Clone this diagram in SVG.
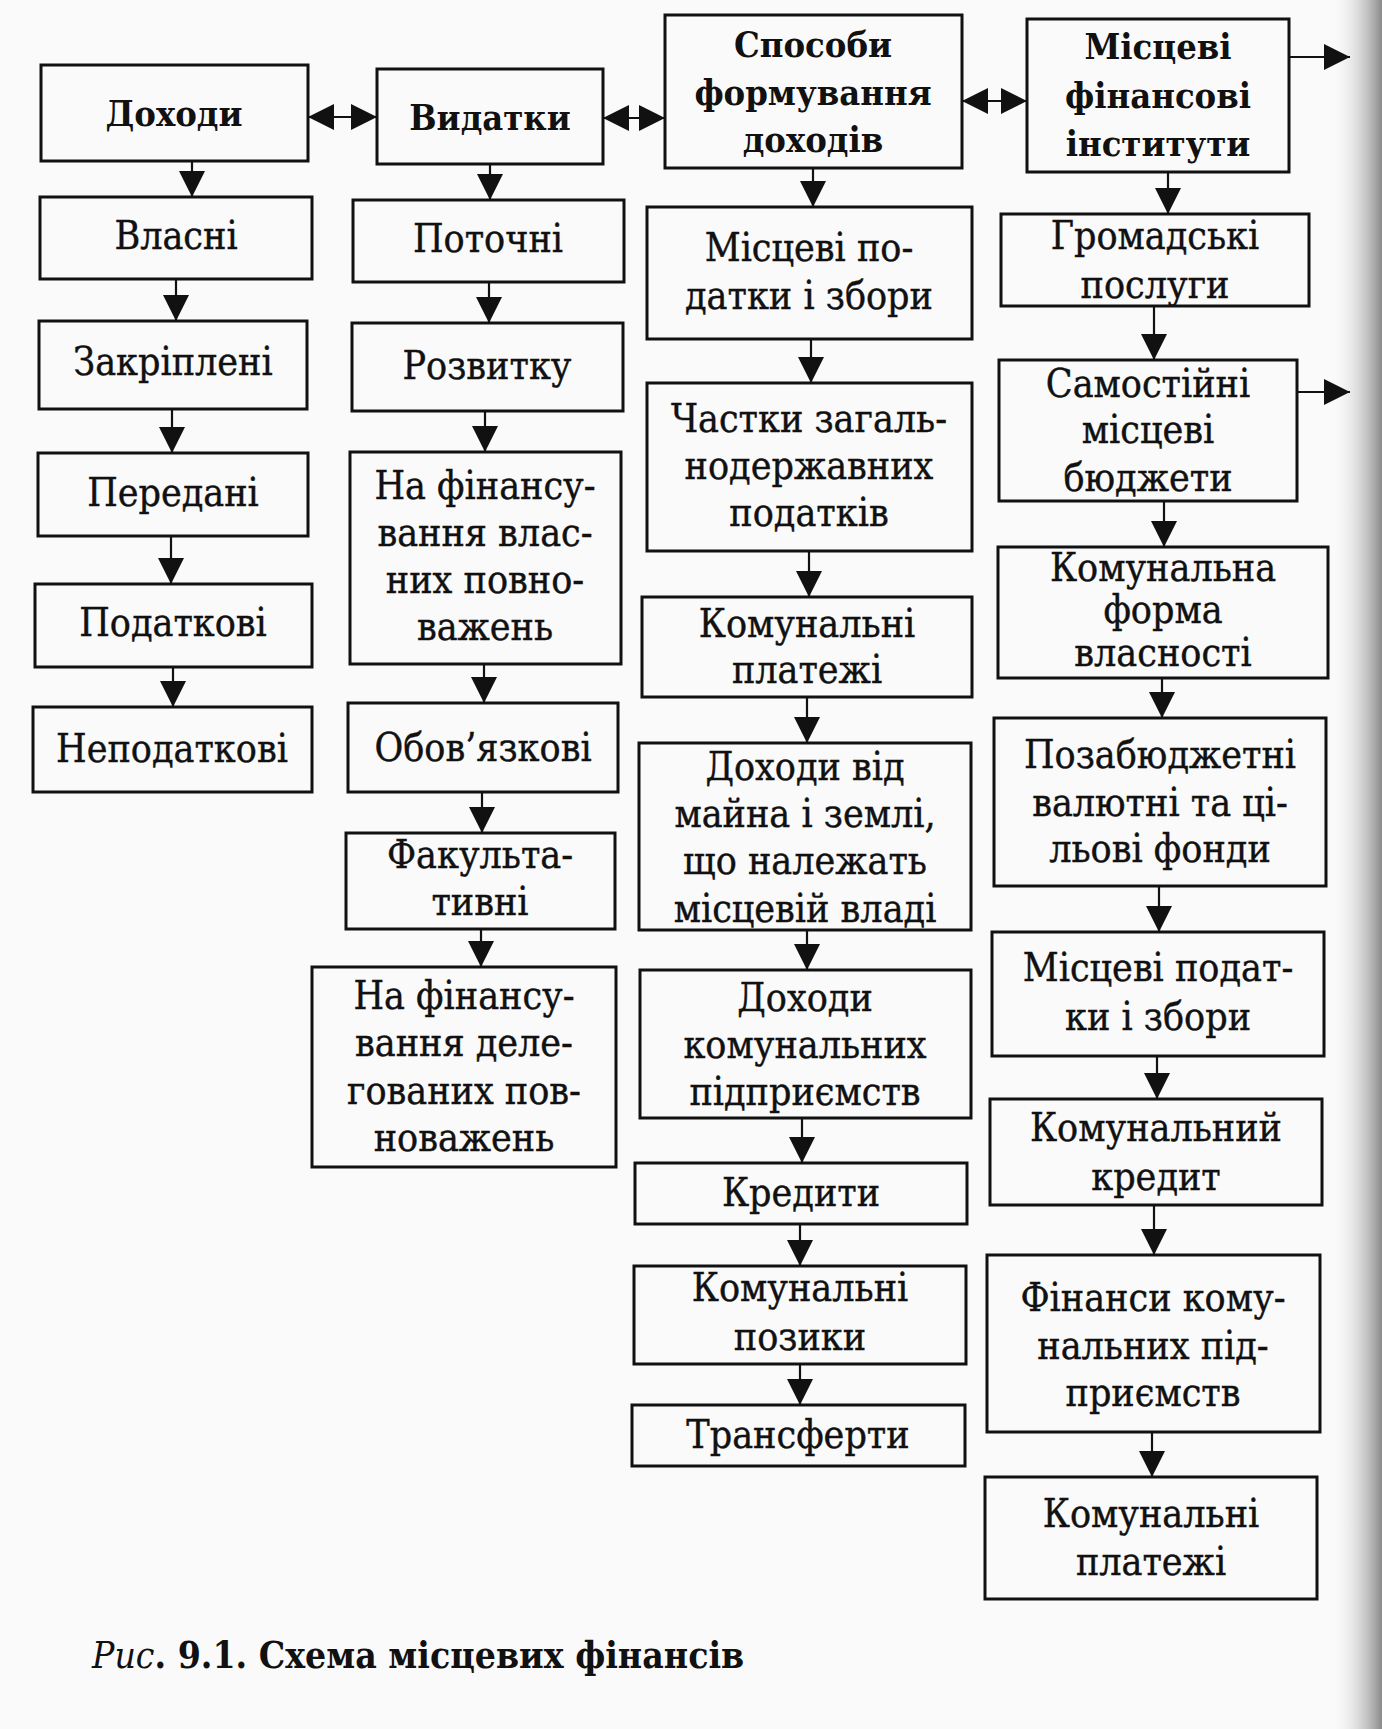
<svg xmlns="http://www.w3.org/2000/svg" width="1382" height="1729" viewBox="0 0 1382 1729">
<defs>
<style>
.box{fill:none;stroke:#111;stroke-width:3}
.t{font-family:"DejaVu Serif Condensed","DejaVu Serif","Liberation Serif",serif;font-stretch:condensed;font-size:39px;fill:#111;stroke:#111;stroke-width:0.4;text-anchor:middle}
.b{font-family:"DejaVu Serif Condensed","DejaVu Serif","Liberation Serif",serif;font-stretch:condensed;font-size:36px;font-weight:bold;fill:#111;text-anchor:middle}
.c{fill:none;stroke:#111;stroke-width:2.2}
.cap{font-family:"DejaVu Serif Condensed","DejaVu Serif","Liberation Serif",serif;font-stretch:condensed;font-size:37px;fill:#111}
</style>
<marker id="ah" viewBox="0 0 26 26" refX="26" refY="13" markerWidth="26" markerHeight="26" markerUnits="userSpaceOnUse" orient="auto-start-reverse">
<path d="M0,0 L26,13 L0,26 z" fill="#111"/>
</marker>
<linearGradient id="edge" x1="0" y1="0" x2="1" y2="0">
<stop offset="0" stop-color="#ffffff" stop-opacity="0"/>
<stop offset="1" stop-color="#8a8a8a"/>
</linearGradient>
</defs>
<rect width="1382" height="1729" fill="#fafafa"/>
<rect x="1330" y="0" width="52" height="1729" fill="url(#edge)"/>

<g id="connectors">
<line class="c" x1="308" y1="117" x2="377" y2="117" marker-start="url(#ah)" marker-end="url(#ah)"/>
<line class="c" x1="603" y1="118" x2="665" y2="118" marker-start="url(#ah)" marker-end="url(#ah)"/>
<line class="c" x1="962" y1="101" x2="1027" y2="101" marker-start="url(#ah)" marker-end="url(#ah)"/>
<line class="c" x1="1289" y1="57" x2="1350" y2="57" marker-end="url(#ah)"/>
<line class="c" x1="1297" y1="392" x2="1350" y2="392" marker-end="url(#ah)"/>
<line class="c" x1="192" y1="161" x2="192" y2="197" marker-end="url(#ah)"/>
<line class="c" x1="176" y1="279" x2="176" y2="321" marker-end="url(#ah)"/>
<line class="c" x1="172" y1="409" x2="172" y2="453" marker-end="url(#ah)"/>
<line class="c" x1="171" y1="536" x2="171" y2="584" marker-end="url(#ah)"/>
<line class="c" x1="173" y1="667" x2="173" y2="707" marker-end="url(#ah)"/>
<line class="c" x1="490" y1="164" x2="490" y2="200" marker-end="url(#ah)"/>
<line class="c" x1="489" y1="282" x2="489" y2="323" marker-end="url(#ah)"/>
<line class="c" x1="485" y1="411" x2="485" y2="452" marker-end="url(#ah)"/>
<line class="c" x1="484" y1="664" x2="484" y2="703" marker-end="url(#ah)"/>
<line class="c" x1="482" y1="792" x2="482" y2="833" marker-end="url(#ah)"/>
<line class="c" x1="481" y1="929" x2="481" y2="967" marker-end="url(#ah)"/>
<line class="c" x1="813" y1="168" x2="813" y2="207" marker-end="url(#ah)"/>
<line class="c" x1="811" y1="339" x2="811" y2="383" marker-end="url(#ah)"/>
<line class="c" x1="809" y1="551" x2="809" y2="597" marker-end="url(#ah)"/>
<line class="c" x1="807" y1="697" x2="807" y2="743" marker-end="url(#ah)"/>
<line class="c" x1="807" y1="930" x2="807" y2="970" marker-end="url(#ah)"/>
<line class="c" x1="802" y1="1118" x2="802" y2="1163" marker-end="url(#ah)"/>
<line class="c" x1="800" y1="1224" x2="800" y2="1266" marker-end="url(#ah)"/>
<line class="c" x1="800" y1="1364" x2="800" y2="1405" marker-end="url(#ah)"/>
<line class="c" x1="1168" y1="172" x2="1168" y2="214" marker-end="url(#ah)"/>
<line class="c" x1="1154" y1="306" x2="1154" y2="360" marker-end="url(#ah)"/>
<line class="c" x1="1164" y1="501" x2="1164" y2="547" marker-end="url(#ah)"/>
<line class="c" x1="1162" y1="678" x2="1162" y2="718" marker-end="url(#ah)"/>
<line class="c" x1="1159" y1="886" x2="1159" y2="932" marker-end="url(#ah)"/>
<line class="c" x1="1157" y1="1056" x2="1157" y2="1099" marker-end="url(#ah)"/>
<line class="c" x1="1154" y1="1205" x2="1154" y2="1255" marker-end="url(#ah)"/>
<line class="c" x1="1152" y1="1432" x2="1152" y2="1477" marker-end="url(#ah)"/>
</g>

<g id="n-dokhody"><rect class="box" x="41" y="65" width="267" height="96"/><text class="b" x="174" y="126">Доходи</text></g>
<g id="n-vlasni"><rect class="box" x="40" y="197" width="272" height="82"/><text class="t" x="176" y="249">Власні</text></g>
<g id="n-zakripleni"><rect class="box" x="39" y="321" width="268" height="88"/><text class="t" x="173" y="375">Закріплені</text></g>
<g id="n-peredani"><rect class="box" x="38" y="453" width="270" height="83"/><text class="t" x="173" y="506">Передані</text></g>
<g id="n-podatkovi"><rect class="box" x="35" y="584" width="277" height="83"/><text class="t" x="173" y="636">Податкові</text></g>
<g id="n-nepodatkovi"><rect class="box" x="33" y="707" width="279" height="85"/><text class="t" x="172" y="762">Неподаткові</text></g>

<g id="n-vydatky"><rect class="box" x="377" y="69" width="226" height="95"/><text class="b" x="490" y="130">Видатки</text></g>
<g id="n-potochni"><rect class="box" x="353" y="200" width="271" height="82"/><text class="t" x="488" y="252">Поточні</text></g>
<g id="n-rozvytku"><rect class="box" x="352" y="323" width="271" height="88"/><text class="t" x="487" y="379">Розвитку</text></g>
<g id="n-vlasnykh"><rect class="box" x="350" y="452" width="271" height="212"/><text class="t" x="485"><tspan x="485" y="499">На фінансу-</tspan><tspan x="485" y="546">вання влас-</tspan><tspan x="485" y="593">них повно-</tspan><tspan x="485" y="640">важень</tspan></text></g>
<g id="n-obovyazkovi"><rect class="box" x="348" y="703" width="270" height="89"/><text class="t" x="483" y="761">Обов’язкові</text></g>
<g id="n-fakultatyvni"><rect class="box" x="346" y="833" width="269" height="96"/><text class="t" x="480"><tspan x="480" y="868">Факульта-</tspan><tspan x="480" y="915">тивні</tspan></text></g>
<g id="n-delegovanykh"><rect class="box" x="312" y="967" width="304" height="200"/><text class="t" x="464"><tspan x="464" y="1009">На фінансу-</tspan><tspan x="464" y="1056">вання деле-</tspan><tspan x="464" y="1104">гованих пов-</tspan><tspan x="464" y="1151">новажень</tspan></text></g>

<g id="n-sposoby"><rect class="box" x="665" y="15" width="297" height="153"/><text class="b" x="813"><tspan x="813" y="57">Способи</tspan><tspan x="813" y="105">формування</tspan><tspan x="813" y="152">доходів</tspan></text></g>
<g id="n-mists-podatky"><rect class="box" x="647" y="207" width="325" height="132"/><text class="t" x="809"><tspan x="809" y="261">Місцеві по-</tspan><tspan x="809" y="309">датки і збори</tspan></text></g>
<g id="n-chastky"><rect class="box" x="647" y="383" width="325" height="168"/><text class="t" x="809"><tspan x="809" y="432">Частки загаль-</tspan><tspan x="809" y="479">нодержавних</tspan><tspan x="809" y="526">податків</tspan></text></g>
<g id="n-kom-platezhi-1"><rect class="box" x="642" y="597" width="330" height="100"/><text class="t" x="807"><tspan x="807" y="637">Комунальні</tspan><tspan x="807" y="683">платежі</tspan></text></g>
<g id="n-mayno"><rect class="box" x="639" y="743" width="332" height="187"/><text class="t" x="805"><tspan x="805" y="780">Доходи від</tspan><tspan x="805" y="827">майна і землі,</tspan><tspan x="805" y="874">що належать</tspan><tspan x="805" y="922">місцевій владі</tspan></text></g>
<g id="n-dokhody-kp"><rect class="box" x="640" y="970" width="331" height="148"/><text class="t" x="805"><tspan x="805" y="1011">Доходи</tspan><tspan x="805" y="1058">комунальних</tspan><tspan x="805" y="1105">підприємств</tspan></text></g>
<g id="n-kredyty"><rect class="box" x="635" y="1163" width="332" height="61"/><text class="t" x="801" y="1206">Кредити</text></g>
<g id="n-pozyky"><rect class="box" x="634" y="1266" width="332" height="98"/><text class="t" x="800"><tspan x="800" y="1301">Комунальні</tspan><tspan x="800" y="1350">позики</tspan></text></g>
<g id="n-transferty"><rect class="box" x="632" y="1405" width="333" height="61"/><text class="t" x="798" y="1448">Трансферти</text></g>

<g id="n-instytuty"><rect class="box" x="1027" y="19" width="262" height="153"/><text class="b" x="1158"><tspan x="1158" y="59">Місцеві</tspan><tspan x="1158" y="108">фінансові</tspan><tspan x="1158" y="156">інститути</tspan></text></g>
<g id="n-hromadski"><rect class="box" x="1001" y="214" width="308" height="92"/><text class="t" x="1155"><tspan x="1155" y="249">Громадські</tspan><tspan x="1155" y="298">послуги</tspan></text></g>
<g id="n-biudzhety"><rect class="box" x="999" y="360" width="298" height="141"/><text class="t" x="1148"><tspan x="1148" y="397">Самостійні</tspan><tspan x="1148" y="443">місцеві</tspan><tspan x="1148" y="491">бюджети</tspan></text></g>
<g id="n-vlasnist"><rect class="box" x="998" y="547" width="330" height="131"/><text class="t" x="1163" font-size="37"><tspan x="1163" y="581">Комунальна</tspan><tspan x="1163" y="623">форма</tspan><tspan x="1163" y="666">власності</tspan></text></g>
<g id="n-fondy"><rect class="box" x="994" y="718" width="332" height="168"/><text class="t" x="1160"><tspan x="1160" y="768">Позабюджетні</tspan><tspan x="1160" y="816">валютні та ці-</tspan><tspan x="1160" y="862">льові фонди</tspan></text></g>
<g id="n-mists-podatky-2"><rect class="box" x="992" y="932" width="332" height="124"/><text class="t" x="1158"><tspan x="1158" y="981">Місцеві подат-</tspan><tspan x="1158" y="1030">ки і збори</tspan></text></g>
<g id="n-kredyt"><rect class="box" x="990" y="1099" width="332" height="106"/><text class="t" x="1156"><tspan x="1156" y="1141">Комунальний</tspan><tspan x="1156" y="1190">кредит</tspan></text></g>
<g id="n-finansy-kp"><rect class="box" x="987" y="1255" width="333" height="177"/><text class="t" x="1153"><tspan x="1153" y="1311">Фінанси кому-</tspan><tspan x="1153" y="1359">нальних під-</tspan><tspan x="1153" y="1406">приємств</tspan></text></g>
<g id="n-kom-platezhi-2"><rect class="box" x="985" y="1477" width="332" height="122"/><text class="t" x="1151"><tspan x="1151" y="1527">Комунальні</tspan><tspan x="1151" y="1575">платежі</tspan></text></g>

<text class="cap" x="92" y="1668"><tspan font-style="italic">Рис</tspan><tspan font-weight="bold">. 9.1. Схема місцевих фінансів</tspan></text>
</svg>
